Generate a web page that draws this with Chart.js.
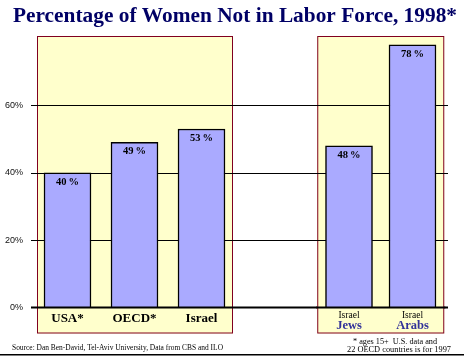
<!DOCTYPE html>
<html><head><meta charset="utf-8">
<script src="https://cdn.jsdelivr.net/npm/chart.js@4.4.0/dist/chart.umd.min.js"></script>
<style>
html,body{margin:0;padding:0;background:#fff;}
#wrap{position:relative;width:464px;height:357px;}
canvas{position:absolute;left:0;top:0;}
</style></head><body>
<div id="wrap"><canvas id="a" width="464" height="357"></canvas><canvas id="b" width="464" height="357"></canvas></div>
<script>
// ---- data ----
const title = 'Percentage of Women Not in Labor Force, 1998*';
const groupA = ['USA*', 'OECD*', 'Israel'];
const valuesA = [40, 49, 53];
const groupBTop = ['Israel', 'Israel'];
const groupB = ['Jews', 'Arabs'];
const valuesB = [48, 78];
const yTicks = [0, 20, 40, 60];
const yMax = 80;
const source = 'Source: Dan Ben-David, Tel-Aviv University, Data from CBS and ILO';
const footnote = ['* ages 15+  U.S. data and', '22 OECD countries is for 1997'];

// ---- style ----
const SERIF = '"Liberation Serif", "Times New Roman", serif';
const SANS = '"Liberation Sans", Arial, sans-serif';
const BAR = '#aaaaff', BOX = '#ffffcc', BOXLINE = '#800020', NAVY = '#000066', BLUE = '#333399';
const GRID_L = 31, GRID_R = 448;

function txt(ctx, s, x, y, font, color, align, fitW) {
  ctx.save();
  ctx.font = font; ctx.fillStyle = color; ctx.textBaseline = 'alphabetic';
  const w = ctx.measureText(s).width;
  let sx = 1;
  if (fitW) sx = fitW / w;
  ctx.translate(x, y); ctx.scale(sx, 1);
  ctx.textAlign = align || 'left';
  ctx.fillText(s, 0, 0);
  ctx.restore();
}
function drawBox(ctx, l, t, r, b) {
  ctx.save();
  ctx.fillStyle = BOX; ctx.fillRect(l, t, r - l, b - t);
  ctx.strokeStyle = BOXLINE; ctx.lineWidth = 1;
  ctx.strokeRect(l + 0.5, t + 0.5, r - l - 1, b - t - 1);
  ctx.restore();
}
function gridLines(chart, l, r) {
  const ctx = chart.ctx, y = chart.scales.y;
  ctx.save(); ctx.strokeStyle = '#000';
  yTicks.forEach(v => {
    if (v === 0) return;
    const py = Math.round(y.getPixelForValue(v)) + 0.5;
    ctx.lineWidth = 1; ctx.beginPath(); ctx.moveTo(l, py); ctx.lineTo(r, py); ctx.stroke();
  });
  ctx.restore();
}
function baseLine(chart, l, r) {
  const ctx = chart.ctx, y = chart.scales.y;
  const py = y.getPixelForValue(0);
  ctx.save(); ctx.strokeStyle = '#000'; ctx.lineWidth = 2.2;
  ctx.beginPath(); ctx.moveTo(l, py); ctx.lineTo(r, py); ctx.stroke(); ctx.restore();
}
function valueLabels(chart, vals) {
  const ctx = chart.ctx, meta = chart.getDatasetMeta(0);
  meta.data.forEach((bar, i) => {
    txt(ctx, vals[i] + '\u2009%', bar.x, bar.y + 12, 'bold 10.5px ' + SERIF, '#000', 'center');
  });
}

const yScale = (show) => ({
  min: 0, max: yMax, display: show,
  afterBuildTicks: s => { s.ticks = yTicks.map(v => ({ value: v })); },
  ticks: { padding: 11, color: '#111', font: { family: SANS, size: 9 }, callback: v => v + '%' },
  grid: { display: false, drawTicks: false },
  border: { display: false },
  afterFit: s => { if (show) s.width = 34; }
});
const xScale = { display: false, grid: { display: false } };

const plugA = {
  id: 'plugA',
  beforeDatasetsDraw(chart) {
    const ctx = chart.ctx, a = chart.chartArea;
    drawBox(ctx, a.left + 3, a.top - 2, a.right - 2, a.bottom + 26);
    gridLines(chart, GRID_L, GRID_R);
  },
  afterDatasetsDraw(chart) {
    const ctx = chart.ctx, x = chart.scales.x;
    baseLine(chart, GRID_L, GRID_R);
    valueLabels(chart, valuesA);
    groupA.forEach((s, i) => txt(ctx, s, x.getPixelForValue(i), 322, 'bold 13px ' + SERIF, '#000', 'center'));
    txt(ctx, title, 235, 21.5, 'bold 21px ' + SERIF, NAVY, 'center', 444);
    txt(ctx, source, 12, 350, '9px ' + SERIF, '#000', 'left', 211);
    ctx.save(); ctx.fillStyle = '#000'; ctx.fillRect(0, 354, 464, 1.5); ctx.restore();
  }
};
const plugB = {
  id: 'plugB',
  beforeDatasetsDraw(chart) {
    const ctx = chart.ctx, a = chart.chartArea;
    drawBox(ctx, a.left, a.top - 2, a.right, a.bottom + 26);
    gridLines(chart, a.left - 1, a.right + 1);
  },
  afterDatasetsDraw(chart) {
    const ctx = chart.ctx, x = chart.scales.x;
    baseLine(chart, chart.chartArea.left - 1, chart.chartArea.right + 1);
    valueLabels(chart, valuesB);
    groupB.forEach((s, i) => {
      const px = x.getPixelForValue(i);
      txt(ctx, groupBTop[i], px, 318, '9.5px ' + SERIF, '#000', 'center');
      txt(ctx, s, px, 329, 'bold 12.5px ' + SERIF, BLUE, 'center');
    });
    txt(ctx, footnote[0], 395, 344, '8px ' + SERIF, '#000', 'center', 84);
    txt(ctx, footnote[1], 399, 351.5, '8px ' + SERIF, '#000', 'center', 104);
  }
};

const common = (labels, vals, pad, showY, plug) => ({
  type: 'bar',
  data: { labels, datasets: [{ data: vals, backgroundColor: BAR, borderColor: '#000', borderWidth: 1.5, barThickness: 47 }] },
  options: {
    responsive: false, animation: false, devicePixelRatio: 1,
    layout: { padding: pad },
    plugins: { legend: { display: false }, tooltip: { enabled: false }, title: { display: false } },
    scales: { x: xScale, y: yScale(showY) }
  },
  plugins: [plug]
});

new Chart(document.getElementById('a'), common(groupA, valuesA, { left: 0, right: 229, top: 38, bottom: 49.5 }, true, plugA));
new Chart(document.getElementById('b'), common(groupB, valuesB, { left: 317.25, right: 19.75, top: 38, bottom: 49.5 }, false, plugB));
</script>
</body></html>
